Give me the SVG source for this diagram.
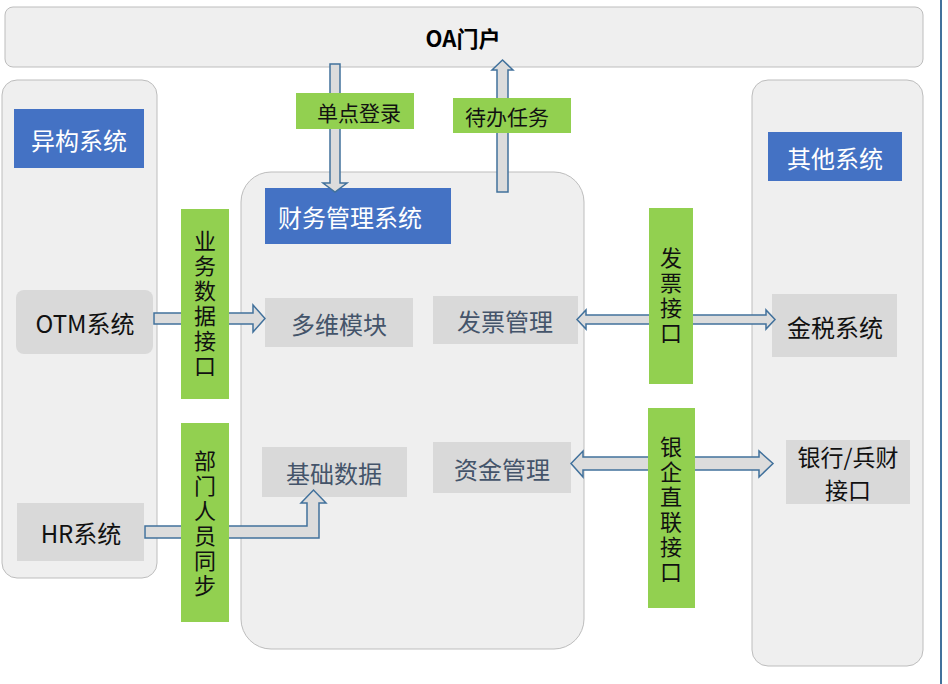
<svg xmlns="http://www.w3.org/2000/svg" width="948" height="684" viewBox="0 0 948 684">
<style>
.panel{fill:#efefef;stroke:#bdbdbd;stroke-width:1}
.blue{fill:#4472c4}
.gray{fill:#d9d9d9}
.green{fill:#92d050}
.arrow{fill:#dcdcdc;stroke:#41719c;stroke-width:1.5;stroke-linejoin:miter}
text{font-family:"Microsoft YaHei","Noto Sans CJK SC","Noto Sans",sans-serif;text-anchor:middle;dominant-baseline:central}
.wt{fill:#ffffff;font-size:24px}
.bk{fill:#111111;font-size:24px}
.sl{fill:#44546a;font-size:24px}
.vt{fill:#111111;font-size:22px;writing-mode:vertical-rl;letter-spacing:3px}
.tl{fill:#111111;font-size:21px}
</style>
<rect width="948" height="684" fill="#ffffff"/>
<line x1="941" y1="0" x2="941" y2="684" stroke="#41719c" stroke-width="2"/>

<g id="oa">
<rect class="panel" x="5" y="7" width="918" height="60" rx="8"/>
<text x="463" y="37" style="font-size:22px;font-weight:bold;fill:#000">OA门户</text>
</g>

<g id="hetero-panel">
<rect class="panel" x="2" y="80" width="155" height="498" rx="15"/>
<rect class="blue" x="14" y="109" width="130" height="59"/>
<text class="wt" x="79" y="139">异构系统</text>
</g>

<g id="other-panel">
<rect class="panel" x="752" y="80" width="171" height="586" rx="16"/>
<rect class="blue" x="768" y="132" width="134" height="49"/>
<text class="wt" x="835" y="157">其他系统</text>
</g>

<g id="finance-panel">
<rect class="panel" x="241" y="172" width="343" height="477" rx="30"/>
<rect class="blue" x="265" y="188" width="186" height="56"/>
<text class="wt" x="350" y="216">财务管理系统</text>
</g>

<g id="otm">
<rect class="gray" x="16" y="290" width="137" height="64" rx="8"/>
<text class="bk" x="85" y="322">OTM系统</text>
</g>
<g id="hr">
<rect class="gray" x="17" y="503" width="127" height="58"/>
<text class="bk" x="81" y="532">HR系统</text>
</g>
<g id="multidim">
<rect class="gray" x="265" y="298" width="148" height="49"/>
<text class="sl" x="339" y="323">多维模块</text>
</g>
<g id="invoice-mgmt">
<rect class="gray" x="433" y="296" width="145" height="48"/>
<text class="sl" x="505" y="320">发票管理</text>
</g>
<g id="base-data">
<rect class="gray" x="262" y="447" width="145" height="50"/>
<text class="sl" x="334" y="472">基础数据</text>
</g>
<g id="fund-mgmt">
<rect class="gray" x="433" y="442" width="138" height="51"/>
<text class="sl" x="502" y="468">资金管理</text>
</g>
<g id="golden-tax">
<rect class="gray" x="772" y="294" width="125" height="63"/>
<text class="bk" x="835" y="326">金税系统</text>
</g>
<g id="bank">
<rect class="gray" x="786" y="440" width="124" height="64"/>
<text class="bk" x="848" style="font-size:23px"><tspan x="848" y="456">银行/兵财</tspan><tspan x="848" y="489">接口</tspan></text>
</g>

<g id="connectors">
<path class="arrow" d="M330,64 H340 V183 H347 L335,192 L323,183 H330 Z"/>
<path class="arrow" d="M497,192 V70 H492 L502.5,60 L513,70 H508 V192 Z"/>
<path class="arrow" d="M154,313 H253 V305 L265,318.5 L253,332 V324 H154 Z"/>
<path class="arrow" d="M145,526 H307 V503 H301 L313.5,490 L326,503 H319 V538 H145 Z"/>
<path class="arrow" d="M577,319.5 L586,310 V315 H766 V310 L775,319.5 L766,329 V324 H586 V329 Z"/>
<path class="arrow" d="M571,463.5 L583,451 V457 H759 V451 L773,463.5 L759,477 V470 H583 V477 Z"/>
</g>

<g id="sso">
<rect class="green" x="296" y="93" width="118" height="36"/>
<text class="tl" x="359" y="112">单点登录</text>
</g>
<g id="todo">
<rect class="green" x="453" y="98" width="118" height="35"/>
<text class="tl" x="507" y="116">待办任务</text>
</g>
<g id="biz-data-if">
<rect class="green" x="181" y="209" width="48" height="190"/>
<text class="vt" x="205" y="305">业务数据接口</text>
</g>
<g id="dept-sync">
<rect class="green" x="181" y="423" width="48" height="199"/>
<text class="vt" x="205" y="525">部门人员同步</text>
</g>
<g id="invoice-if">
<rect class="green" x="649" y="208" width="44" height="176"/>
<text class="vt" x="671" y="297">发票接口</text>
</g>
<g id="bank-if">
<rect class="green" x="648" y="408" width="47" height="200"/>
<text class="vt" x="671" y="511">银企直联接口</text>
</g>
</svg>
